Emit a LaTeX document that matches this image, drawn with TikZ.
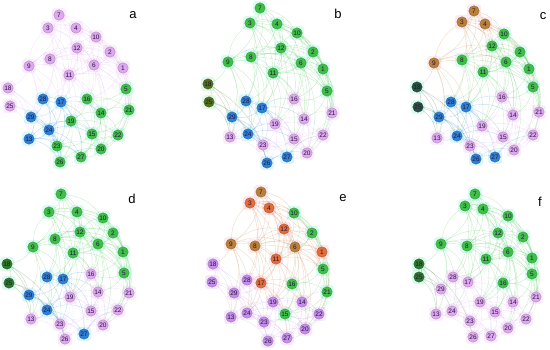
\documentclass[tikz,border=0pt]{standalone}
\usepackage{fontspec}
\setsansfont{Liberation Sans}
\usepackage{tikz}
\usetikzlibrary{backgrounds}
\usepackage{xcolor}

\definecolor{pk}{RGB}{222,168,240}
\definecolor{pu}{RGB}{196,140,236}
\definecolor{gr}{RGB}{62,192,72}
\definecolor{bl}{RGB}{44,128,218}
\definecolor{og}{RGB}{186,128,58}
\definecolor{rd}{RGB}{226,108,58}
\definecolor{ol}{RGB}{82,112,28}
\definecolor{tl}{RGB}{38,84,62}
\definecolor{dg}{RGB}{46,120,46}
% glow round each node
\definecolor{pkh}{RGB}{246,222,248}
\definecolor{puh}{RGB}{238,214,248}
\definecolor{grh}{RGB}{186,248,228}
\definecolor{blh}{RGB}{190,240,252}
\definecolor{ogh}{RGB}{250,218,230}
\definecolor{rdh}{RGB}{252,212,220}
\definecolor{olh}{RGB}{196,246,214}
\definecolor{tlh}{RGB}{190,246,232}
\definecolor{dgh}{RGB}{190,246,226}
\definecolor{numcol}{RGB}{36,20,56}

% the same network in every panel
\newcommand{\edgelist}{7/3,7/4,3/4,3/8,3/11,3/12,3/6,4/8,4/11,4/12,4/6,7/8,7/11,9/8,9/11,9/3,9/6,
  8/12,8/11,8/6,8/1,8/5,8/2,12/6,12/11,12/10,12/2,10/2,10/6,10/1,2/6,2/1,6/1,6/11,6/5,1/5,11/5,
  11/1,11/16,10/5,2/5,6/16,6/14,6/19,11/17,11/19,8/17,8/24,9/13,9/29,1/21,5/21,5/22,5/14,12/16,
  18/25,18/29,25/13,18/26,25/24,28/17,28/29,28/24,28/19,17/29,17/24,17/19,17/23,17/27,29/24,
  29/13,29/26,24/13,24/23,24/26,24/27,24/19,19/23,19/15,19/14,19/27,19/26,16/14,16/15,16/21,
  16/19,14/21,14/15,14/22,14/20,21/22,21/20,15/23,15/27,15/20,15/22,22/20,20/27,23/26,23/27,
  26/27,13/23,13/26,27/22,16/20,
  7/12,7/10,3/10,4/10,4/2,3/2,9/12,9/17,9/24,8/28,3/28,7/9,12/1,10/11,2/11,12/5,4/5,10/21,
  2/21,1/22,6/21,6/15,11/15,11/14,12/14,12/19,1/16,5/16,5/20,6/20,8/19,3/17,11/28,12/17,
  18/13,25/29,9/18,13/27,13/19,29/23,28/23,17/15,17/16,17/14,19/20,19/22,23/20,26/20,24/15,
  14/27,21/15,22/15}

\newcommand{\drawpanel}[2]{%
  \foreach \n/\x/\y/\c in {#2} {
    \node[vert, fill=\c, draw=\c!75!black] (#1\n) at (\x,\y) {\n};
    \begin{scope}[on background layer]
      \fill[\c h, fill opacity=0.55, rounded corners=3pt] (\x-7,\y-7) rectangle (\x+7,\y+7);
    \end{scope}
    \xglobal\colorlet{ec#1\n}{\c}
  }
  \begin{scope}[on background layer]
    \foreach \u/\v in \edgelist
      \draw[edge, draw=ec#1\u] (#1\u) to[bend left=22] (#1\v);
  \end{scope}
}

\begin{document}
\begin{tikzpicture}[x=1pt, y=-1pt,
    vert/.style={circle, inner sep=0pt, minimum size=10.5pt, line width=0.3pt,
      text=numcol, font=\sffamily\fontsize{6.5}{6.5}\selectfont},
    edge/.style={line width=0.4pt, draw opacity=0.28},
    plabel/.style={font=\sffamily\fontsize{13}{13}\selectfont}]
  \useasboundingbox (0,0) rectangle (550,350);

  % a
  \drawpanel{a}{1/123/68/pk, 2/110/52/pk, 3/48/28/pk, 4/76/28/pk, 5/126/89/gr, 6/94/65/pk,
    7/59/15/pk, 8/50/59/pk, 9/29/66/pk, 10/96/37/pk, 11/69/75/pk, 12/77/48/pk, 13/29/139/bl,
    14/101/113/gr, 15/92/134/gr, 16/87/99/gr, 17/61/102/bl, 18/8/88/pk, 19/71/121/gr,
    20/101/149/gr, 21/129/110/gr, 22/118/135/gr, 23/57/146/gr, 24/49/130/bl, 25/10/106/pk,
    26/60/162/gr, 27/81/157/gr, 28/43/99/bl, 29/31/117/bl}
  \node[plabel] (la) at (133,15) {a};

  % b
  \drawpanel{b}{1/323/69/gr, 2/313/52/gr, 3/250/23/gr, 4/277/24/gr, 5/327/91/gr, 6/301/63/gr,
    7/260/8/gr, 8/251/57/gr, 9/228/62/gr, 10/297/33/gr, 11/273/73/gr, 12/281/48/gr,
    13/230/137/pk, 14/304/119/pk, 15/294/139/pk, 16/294/99/pk, 17/262/108/bl, 18/208/84/ol,
    19/275/124/pk, 20/307/153/pk, 21/332/113/pk, 22/323/135/pk, 23/263/145/pk, 24/248/134/bl,
    25/209/102/ol, 26/267/163/bl, 27/287/157/bl, 28/246/101/bl, 29/232/117/bl}
  \node[plabel] (lb) at (338,14) {b};

  % c
  \drawpanel{c}{1/529/69/gr, 2/520/52/gr, 3/462/22/og, 4/485/24/og, 5/533/87/gr, 6/506/62/gr,
    7/474/11/og, 8/462/60/gr, 9/434/63/og, 10/504/34/gr, 11/483/72/gr, 12/492/46/gr,
    13/437/138/pk, 14/513/115/pk, 15/503/137/pk, 16/502/97/pk, 17/466/107/bl, 18/417/87/tl,
    19/482/126/pk, 20/514/150/pk, 21/539/112/pk, 22/533/135/pk, 23/470/146/pk, 24/457/136/bl,
    25/418/107/tl, 26/476/159/bl, 27/495/157/bl, 28/451/102/bl, 29/439/117/bl}
  \node[plabel] (lc) at (543,16) {c};

  % d
  \drawpanel{d}{1/123/252/gr, 2/113/233/gr, 3/49/212/gr, 4/77/212/gr, 5/124/273/gr, 6/98/244/gr,
    7/61/194/gr, 8/55/239/gr, 9/33/247/gr, 10/103/218/gr, 11/73/253/gr, 12/80/232/gr,
    13/31/319/pk, 14/98/292/pk, 15/91/311/pk, 16/91/274/pk, 17/63/279/bl, 18/7/264/dg,
    19/70/297/pk, 20/103/325/pk, 21/129/293/pk, 22/118/310/pk, 23/60/324/pk, 24/47/310/bl,
    25/9/283/dg, 26/65/339/pk, 27/84/334/bl, 28/47/277/bl, 29/29/295/bl}
  \node[plabel] (ld) at (132,199) {d};

  % e
  \drawpanel{e}{1/322/252/rd, 2/312/233/gr, 3/250/203/rd, 4/269/208/rd, 5/323/269/gr, 6/295/247/og,
    7/261/192/og, 8/255/246/og, 9/231/244/og, 10/294/213/gr, 11/276/259/rd, 12/284/229/rd,
    13/231/317/pu, 14/302/302/pu, 15/285/314/gr, 16/292/284/gr, 17/261/283/rd, 18/213/264/pu,
    19/273/302/pu, 20/305/329/pu, 21/327/292/gr, 22/319/314/pu, 23/264/322/pu, 24/247/313/pu,
    25/212/282/pu, 26/268/341/pu, 27/287/338/pu, 28/247/280/pu, 29/234/293/pu}
  \node[plabel] (le) at (343,198) {e};

  % f
  \drawpanel{f}{1/532/258/gr, 2/523/237/gr, 3/465/206/gr, 4/483/209/gr, 5/532/274/gr, 6/508/252/gr,
    7/475/194/gr, 8/467/246/gr, 9/441/244/gr, 10/508/216/gr, 11/486/259/gr, 12/498/233/gr,
    13/436/314/pk, 14/513/302/pk, 15/495/312/pk, 16/503/283/gr, 17/468/282/pk, 18/419/264/dg,
    19/480/302/pk, 20/508/328/pk, 21/536/297/pk, 22/526/319/pk, 23/470/321/pk, 24/452/311/pk,
    25/419/277/dg, 26/473/337/pk, 27/491/336/pk, 28/453/277/pk, 29/441/289/pk}
  \node[plabel] (lf) at (540,202) {f};
\end{tikzpicture}
\end{document}
